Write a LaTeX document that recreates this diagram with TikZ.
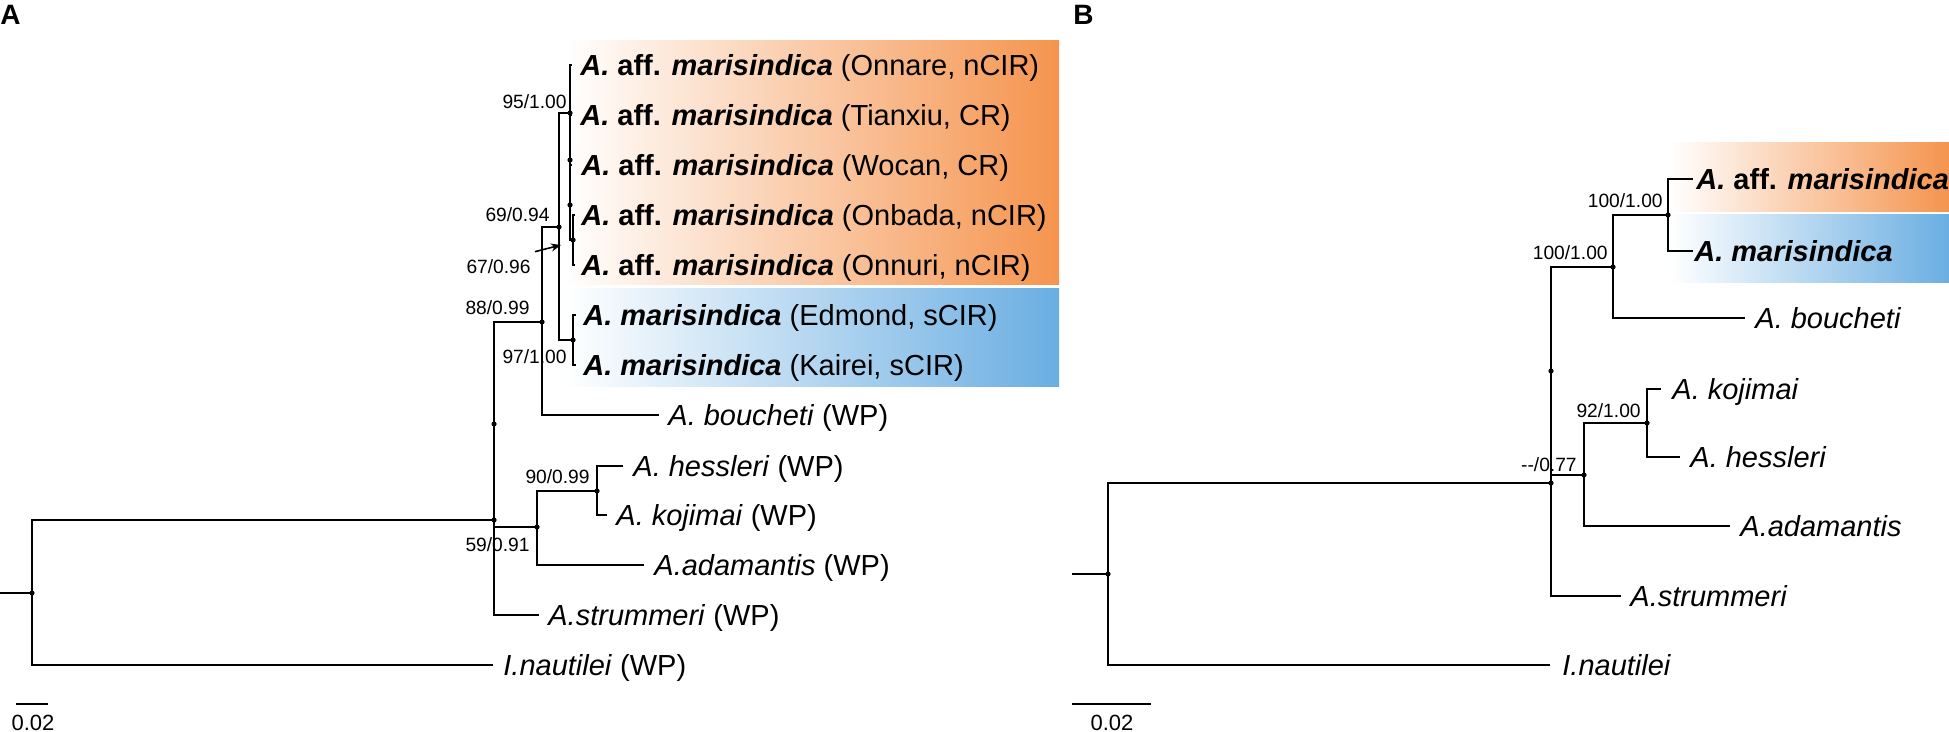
\documentclass[tikz,border=0pt]{standalone}
\usepackage{fontspec}
\setmainfont{Liberation Sans}
\usetikzlibrary{arrows.meta}
\definecolor{orng}{RGB}{245,148,78}
\definecolor{blu}{RGB}{106,174,226}
\begin{document}
\begin{tikzpicture}[x=0.5pt,y=-0.5pt,
  br/.style={line width=1pt},
  dot/.style={circle,fill=black,inner sep=0pt,minimum size=2.6pt},
  tip/.style={anchor=west,inner sep=0pt,font=\fontsize{14.5}{16}\selectfont,text height=10.4pt,text depth=0pt},
  sup/.style={anchor=east,inner sep=0pt,font=\fontsize{9.6}{11}\selectfont,text height=6.9pt,text depth=0pt},
  sbar/.style={anchor=center,inner sep=0pt,font=\fontsize{11}{12}\selectfont,text height=7.9pt,text depth=0pt},
  panel/.style={anchor=west,inner sep=0pt,font=\fontsize{14}{16}\selectfont\bfseries,text height=10pt,text depth=0pt}]
\useasboundingbox (0,0) rectangle (1949,732);
% ---------- gradient boxes ----------
\shade[left color=white,right color=orng] (565,41) rectangle (1059,285);
\shade[left color=white,right color=blu] (565,289) rectangle (1059,387);
\shade[left color=white,right color=orng] (1670,143) rectangle (1949,212);
\shade[left color=white,right color=blu] (1670,215) rectangle (1949,283);
% ---------- panel labels ----------
\node[panel] (labA) at (0,15) {A};
\node[panel] (labB) at (1073,15) {B};
% ================= PANEL A =================
\coordinate (rA0) at (0,593);
\coordinate (rA) at (32,593);
\coordinate (nA0) at (494,520);
\coordinate (nA1) at (494,424);
\coordinate (n88) at (542,322);
\coordinate (n69) at (559,227);
\coordinate (n95) at (570,113);
\coordinate (nq1) at (570,160);
\coordinate (nq2) at (570,205);
\coordinate (nq3) at (573,240);
\coordinate (n97) at (573,340);
\coordinate (n59) at (537,527);
\coordinate (n90) at (597,491);
\coordinate (tOnnare) at (572,65);
\coordinate (tTianxiu) at (572,115);
\coordinate (tWocan) at (572,165);
\coordinate (tOnbada) at (575,215);
\coordinate (tOnnuri) at (575,265);
\coordinate (tEdmond) at (576,315);
\coordinate (tKairei) at (576,365);
\coordinate (tBouch) at (659,415);
\coordinate (tHess) at (623,466);
\coordinate (tKoj) at (607,515);
\coordinate (tAdam) at (644,565);
\coordinate (tStrum) at (539,615);
\coordinate (tNaut) at (493,665);
\draw[br] (rA0) -- (rA);
\draw[br] (rA) |- (nA0);
\draw[br] (rA) |- (tNaut);
\draw[br] (nA0) |- (nA1);
\draw[br] (nA0) |- (tStrum);
\draw[br] (nA1) |- (n88);
\draw[br] (nA1) |- (n59);
\draw[br] (n88) |- (n69);
\draw[br] (n88) |- (tBouch);
\draw[br] (n69) |- (n95);
\draw[br] (n69) |- (n97);
\draw[br] (n95) |- (tOnnare);
\draw[br] (n95) |- (nq1);
\draw[br] (nq1) |- (tTianxiu);
\draw[br] (nq1) |- (nq2);
\draw[br] (nq2) |- (tWocan);
\draw[br] (nq2) |- (nq3);
\draw[br] (nq3) |- (tOnbada);
\draw[br] (nq3) |- (tOnnuri);
\draw[br] (n97) |- (tEdmond);
\draw[br] (n97) |- (tKairei);
\draw[br] (n59) |- (n90);
\draw[br] (n59) |- (tAdam);
\draw[br] (n90) |- (tHess);
\draw[br] (n90) |- (tKoj);
\foreach \c in {rA,nA0,nA1,n88,n69,n95,nq1,nq2,nq3,n97,n59,n90} \node[dot] at (\c) {};
% tip labels A
\node[tip] (LOnnare) at (580,65) {{\bfseries\itshape A.} {\bfseries aff.} {\bfseries\itshape marisindica} (Onnare, nCIR)};
\node[tip] (LTianxiu) at (580,115) {{\bfseries\itshape A.} {\bfseries aff.} {\bfseries\itshape marisindica} (Tianxiu, CR)};
\node[tip] (LWocan) at (581,165) {{\bfseries\itshape A.} {\bfseries aff.} {\bfseries\itshape marisindica} (Wocan, CR)};
\node[tip] (LOnbada) at (581,215) {{\bfseries\itshape A.} {\bfseries aff.} {\bfseries\itshape marisindica} (Onbada, nCIR)};
\node[tip] (LOnnuri) at (581,265) {{\bfseries\itshape A.} {\bfseries aff.} {\bfseries\itshape marisindica} (Onnuri, nCIR)};
\node[tip] (LEdmond) at (583,315) {{\bfseries\itshape A. marisindica} (Edmond, sCIR)};
\node[tip] (LKairei) at (583,365) {{\bfseries\itshape A. marisindica} (Kairei, sCIR)};
\node[tip] (LBouch) at (668,415) {\itshape A. boucheti\/ \upshape(WP)};
\node[tip] (LHess) at (633,466) {\itshape A. hessleri\/ \upshape(WP)};
\node[tip] (LKoj) at (616,515) {\itshape A. kojimai\/ \upshape(WP)};
\node[tip] (LAdam) at (654,565) {\itshape A.adamantis\/ \upshape(WP)};
\node[tip] (LStrum) at (548,615) {\itshape A.strummeri\/ \upshape(WP)};
\node[tip] (LNaut) at (503,665) {\itshape I.nautilei\/ \upshape(WP)};
% support values A
\node[sup] (s95) at (567,102) {95/1.00};
\node[sup] (s69) at (550,215) {69/0.94};
\node[sup] (s67) at (531,267) {67/0.96};
\node[sup] (s88) at (530,308) {88/0.99};
\node[sup] (s97) at (567,357) {97/1.00};
\node[sup] (s90) at (590,477) {90/0.99};
\node[sup] (s59) at (530,545) {59/0.91};
\coordinate (a67) at (561,245);
\draw[line width=0.8pt,-{Stealth[length=5pt,width=4pt]}] (s67.north east) ++(4,-8) -- (a67);
% scale bar A
\coordinate (sbA1) at (16,704);
\coordinate (sbA2) at (48,704);
\draw[br] (sbA1) -- (sbA2);
\node[sbar] (sbAt) at (33,723) {0.02};
% ================= PANEL B =================
\coordinate (rB0) at (1072,574);
\coordinate (rB) at (1108,574);
\coordinate (mB0) at (1551,483);
\coordinate (mB1) at (1551,371);
\coordinate (m100o) at (1613,267);
\coordinate (m100i) at (1668,215);
\coordinate (m077) at (1584,475);
\coordinate (m92) at (1647,423);
\coordinate (uAff) at (1693,179);
\coordinate (uMar) at (1693,251);
\coordinate (uBouch) at (1745,318);
\coordinate (uKoj) at (1661,389);
\coordinate (uHess) at (1680,457);
\coordinate (uAdam) at (1730,526);
\coordinate (uStrum) at (1621,596);
\coordinate (uNaut) at (1550,665);
\draw[br] (rB0) -- (rB);
\draw[br] (rB) |- (mB0);
\draw[br] (rB) |- (uNaut);
\draw[br] (mB0) |- (mB1);
\draw[br] (mB0) |- (uStrum);
\draw[br] (mB1) |- (m100o);
\draw[br] (mB1) |- (m077);
\draw[br] (m100o) |- (m100i);
\draw[br] (m100o) |- (uBouch);
\draw[br] (m100i) |- (uAff);
\draw[br] (m100i) |- (uMar);
\draw[br] (m077) |- (m92);
\draw[br] (m077) |- (uAdam);
\draw[br] (m92) |- (uKoj);
\draw[br] (m92) |- (uHess);
\foreach \c in {rB,mB0,mB1,m100o,m100i,m077,m92} \node[dot] at (\c) {};
% tip labels B
\node[tip] (MAff) at (1696,179) {{\bfseries\itshape A.} {\bfseries aff.} {\bfseries\itshape marisindica}};
\node[tip] (MMar) at (1694,251) {{\bfseries\itshape A. marisindica}};
\node[tip] (MBouch) at (1755,318) {\itshape A. boucheti};
\node[tip] (MKoj) at (1672,389) {\itshape A. kojimai};
\node[tip] (MHess) at (1690,457) {\itshape A. hessleri};
\node[tip] (MAdam) at (1740,526) {\itshape A.adamantis};
\node[tip] (MStrum) at (1630,596) {\itshape A.strummeri};
\node[tip] (MNaut) at (1562,665) {\itshape I.nautilei};
% support values B
\node[sup] (t100i) at (1663,201) {100/1.00};
\node[sup] (t100o) at (1608,253) {100/1.00};
\node[sup] (t92) at (1641,411) {92/1.00};
\node[sup] (t077) at (1577,465) {-{}-/0.77};
% scale bar B
\coordinate (sbB1) at (1072,704);
\coordinate (sbB2) at (1151,704);
\draw[br] (sbB1) -- (sbB2);
\node[sbar] (sbBt) at (1112,723) {0.02};
\end{tikzpicture}
\end{document}
